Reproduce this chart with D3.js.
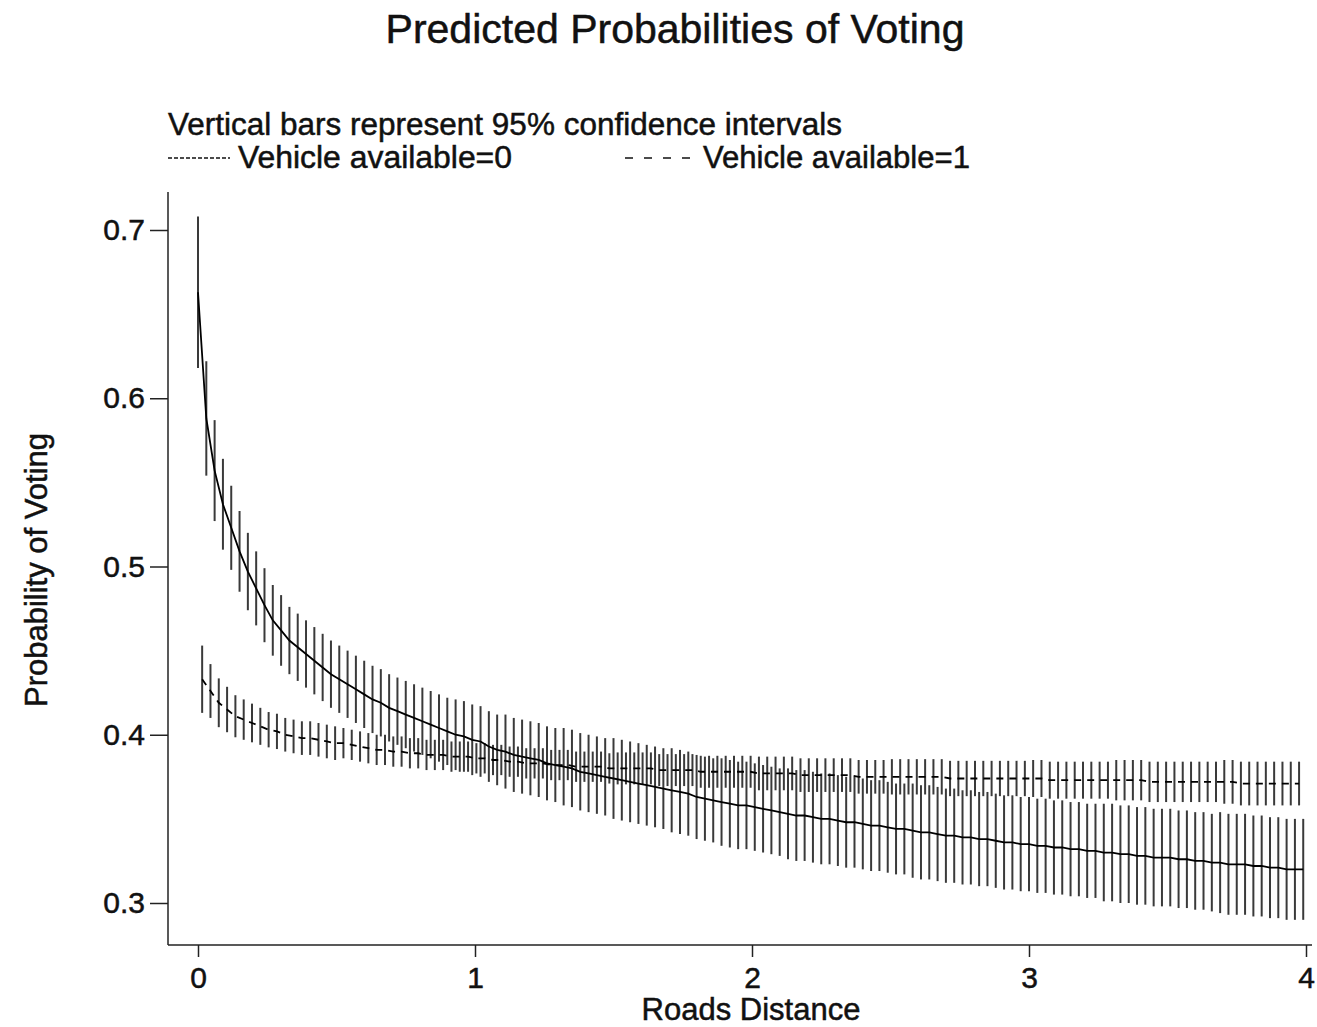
<!DOCTYPE html>
<html>
<head>
<meta charset="utf-8">
<title>Predicted Probabilities of Voting</title>
<script src="https://cdn.jsdelivr.net/npm/d3@7"></script>
<style>
    body { margin: 0; background: #fff; }
    svg { display: block; font-family: "Liberation Sans", Arial, Helvetica, sans-serif; }
    svg text { stroke: #111; stroke-width: 0.5px; }
</style>
</head>
<body>
<div id="chart"></div>
<script>
// road distance of each estimate, vehicle available = 0
const distance0 = [
    0.00,0.03,0.06,0.09,0.12,0.15,0.18,0.21,0.24,0.27,
    0.30,0.33,0.36,0.39,0.42,0.45,0.48,0.51,0.54,0.57,
    0.60,0.63,0.66,0.69,0.72,0.75,0.78,0.81,0.84,0.87,
    0.90,0.93,0.96,0.99,1.02,1.05,1.08,1.11,1.14,1.17,
    1.20,1.23,1.26,1.29,1.32,1.35,1.38,1.41,1.44,1.47,
    1.50,1.53,1.56,1.59,1.62,1.65,1.68,1.71,1.74,1.77,
    1.80,1.83,1.86,1.89,1.92,1.95,1.98,2.01,2.04,2.07,
    2.10,2.13,2.16,2.19,2.22,2.25,2.28,2.31,2.34,2.37,
    2.40,2.43,2.46,2.49,2.52,2.55,2.58,2.61,2.64,2.67,
    2.70,2.73,2.76,2.79,2.82,2.85,2.88,2.91,2.94,2.97,
    3.00,3.03,3.06,3.09,3.12,3.15,3.18,3.21,3.24,3.27,
    3.30,3.33,3.36,3.39,3.42,3.45,3.48,3.51,3.54,3.57,
    3.60,3.63,3.66,3.69,3.72,3.75,3.78,3.81,3.84,3.87,
    3.90,3.93,3.96,3.99
];
const prob0 = [
    0.663,0.588,0.557,0.537,0.523,0.509,0.497,0.487,0.477,0.468,
    0.462,0.456,0.452,0.448,0.444,0.440,0.436,0.433,0.430,0.427,
    0.424,0.421,0.419,0.416,0.414,0.412,0.410,0.408,0.406,0.404,
    0.402,0.400,0.399,0.397,0.396,0.393,0.391,0.390,0.388,0.387,
    0.386,0.385,0.383,0.382,0.381,0.380,0.378,0.377,0.376,0.375,
    0.374,0.373,0.372,0.371,0.370,0.369,0.368,0.367,0.366,0.365,
    0.363,0.362,0.361,0.360,0.359,0.358,0.358,0.357,0.356,0.355,
    0.354,0.353,0.352,0.352,0.351,0.350,0.350,0.349,0.348,0.348,
    0.347,0.346,0.346,0.345,0.344,0.344,0.343,0.342,0.342,0.341,
    0.340,0.340,0.339,0.339,0.338,0.338,0.337,0.336,0.336,0.335,
    0.335,0.334,0.334,0.333,0.333,0.332,0.332,0.331,0.331,0.330,
    0.330,0.329,0.329,0.328,0.328,0.327,0.327,0.327,0.326,0.326,
    0.325,0.325,0.324,0.324,0.323,0.323,0.323,0.322,0.322,0.321,
    0.321,0.320,0.320,0.320
];
// half width of the 95% interval
const ci0 = [
    0.045,0.034,0.030,0.027,0.025,0.024,0.023,0.022,0.022,0.021,
    0.021,0.020,0.020,0.020,0.020,0.020,0.020,0.020,0.020,0.020,
    0.020,0.020,0.020,0.020,0.020,0.020,0.020,0.020,0.020,0.020,
    0.020,0.021,0.021,0.021,0.021,0.021,0.021,0.022,0.022,0.022,
    0.022,0.022,0.022,0.022,0.023,0.023,0.023,0.023,0.023,0.023,
    0.024,0.024,0.024,0.024,0.024,0.024,0.024,0.025,0.025,0.025,
    0.025,0.025,0.025,0.026,0.026,0.026,0.026,0.026,0.026,0.026,
    0.026,0.027,0.027,0.027,0.027,0.027,0.027,0.027,0.027,0.027,
    0.027,0.027,0.027,0.027,0.027,0.027,0.028,0.028,0.028,0.028,
    0.028,0.028,0.028,0.028,0.028,0.028,0.028,0.028,0.028,0.028,
    0.028,0.028,0.028,0.028,0.028,0.028,0.028,0.028,0.028,0.029,
    0.029,0.029,0.029,0.029,0.029,0.029,0.029,0.029,0.029,0.029,
    0.029,0.029,0.029,0.030,0.030,0.030,0.030,0.030,0.030,0.030,
    0.030,0.030,0.030,0.030
];

// vehicle available = 1
const distance1 = [
    0.015,0.045,0.075,0.105,0.135,0.165,0.195,0.225,0.255,0.285,
    0.315,0.345,0.375,0.405,0.435,0.465,0.495,0.525,0.555,0.585,
    0.615,0.645,0.675,0.705,0.735,0.765,0.795,0.825,0.855,0.885,
    0.915,0.945,0.975,1.005,1.035,1.065,1.095,1.125,1.155,1.185,
    1.215,1.245,1.275,1.305,1.335,1.365,1.395,1.425,1.455,1.485,
    1.515,1.545,1.575,1.605,1.635,1.665,1.695,1.725,1.755,1.785,
    1.815,1.845,1.875,1.905,1.935,1.965,1.995,2.025,2.055,2.085,
    2.115,2.145,2.175,2.205,2.235,2.265,2.295,2.325,2.355,2.385,
    2.415,2.445,2.475,2.505,2.535,2.565,2.595,2.625,2.655,2.685,
    2.715,2.745,2.775,2.805,2.835,2.865,2.895,2.925,2.955,2.985,
    3.015,3.045,3.075,3.105,3.135,3.165,3.195,3.225,3.255,3.285,
    3.315,3.345,3.375,3.405,3.435,3.465,3.495,3.525,3.555,3.585,
    3.615,3.645,3.675,3.705,3.735,3.765,3.795,3.825,3.855,3.885,
    3.915,3.945,3.975
];
const prob1 = [
    0.433,0.426,0.419,0.415,0.411,0.409,0.407,0.405,0.403,0.402,
    0.400,0.399,0.398,0.398,0.397,0.396,0.395,0.395,0.394,0.393,
    0.392,0.391,0.391,0.390,0.390,0.389,0.389,0.388,0.388,0.388,
    0.387,0.387,0.387,0.386,0.386,0.385,0.385,0.384,0.384,0.383,
    0.383,0.383,0.382,0.382,0.382,0.381,0.381,0.381,0.381,0.380,
    0.380,0.380,0.380,0.380,0.380,0.379,0.379,0.379,0.379,0.379,
    0.378,0.378,0.378,0.378,0.378,0.378,0.378,0.377,0.377,0.377,
    0.377,0.377,0.376,0.376,0.376,0.376,0.376,0.376,0.376,0.375,
    0.375,0.375,0.375,0.375,0.375,0.375,0.375,0.375,0.375,0.375,
    0.374,0.374,0.374,0.374,0.374,0.374,0.374,0.374,0.374,0.374,
    0.374,0.374,0.373,0.373,0.373,0.373,0.373,0.373,0.373,0.373,
    0.373,0.373,0.373,0.373,0.372,0.372,0.372,0.372,0.372,0.372,
    0.372,0.372,0.372,0.372,0.372,0.371,0.371,0.371,0.371,0.371,
    0.371,0.371,0.371
];
const ci1 = [
    0.020,0.016,0.0145,0.0135,0.0125,0.012,0.0115,0.011,0.0105,0.0105,
    0.010,0.010,0.010,0.010,0.010,0.010,0.010,0.009,0.009,0.009,
    0.009,0.009,0.009,0.009,0.009,0.009,0.009,0.009,0.009,0.009,
    0.009,0.009,0.009,0.009,0.009,0.009,0.009,0.009,0.009,0.009,
    0.009,0.009,0.009,0.009,0.009,0.009,0.009,0.009,0.009,0.009,
    0.0095,0.0095,0.0095,0.0095,0.0095,0.0095,0.0095,0.0095,0.0095,0.0095,
    0.0095,0.0095,0.0095,0.0095,0.0095,0.0095,0.0095,0.010,0.010,0.010,
    0.010,0.010,0.010,0.010,0.010,0.010,0.010,0.010,0.010,0.010,
    0.010,0.010,0.010,0.0105,0.0105,0.0105,0.0105,0.0105,0.0105,0.0105,
    0.0105,0.0105,0.0105,0.0105,0.0105,0.0105,0.0105,0.0105,0.0105,0.0105,
    0.011,0.011,0.011,0.011,0.011,0.011,0.011,0.011,0.011,0.011,
    0.012,0.012,0.012,0.012,0.012,0.012,0.012,0.012,0.012,0.012,
    0.012,0.012,0.012,0.013,0.013,0.013,0.013,0.013,0.013,0.013,
    0.013,0.013,0.013
];

const xTicks = [0, 1, 2, 3, 4];
const yTicks = [0.3, 0.4, 0.5, 0.6, 0.7];

document.addEventListener("DOMContentLoaded", function() {
    const width = 1317;
    const height = 1027;

    const svg = d3.select("#chart")
        .append("svg")
        .attr("width", width)
        .attr("height", height);

    const x = d3.scaleLinear().domain([0, 4]).range([198, 1306]);
    const y = d3.scaleLinear().domain([0.3, 0.7]).range([903, 230]);

    const series = [
        { xs: distance0, ps: prob0, ci: ci0, dash: null },
        { xs: distance1, ps: prob1, ci: ci1, dash: "7,6" }
    ];

    // confidence bars
    series.forEach(s => {
        const rows = s.xs.map((d, i) => ({ x: d, p: s.ps[i], h: s.ci[i] }));
        svg.append("g")
            .selectAll("line")
            .data(rows)
            .enter()
            .append("line")
            .attr("x1", d => x(d.x))
            .attr("x2", d => x(d.x))
            .attr("y1", d => y(d.p + d.h))
            .attr("y2", d => y(d.p - d.h))
            .attr("stroke", "#3a3a3a")
            .attr("stroke-width", 2);
    });

    // predicted lines
    series.forEach(s => {
        const rows = s.xs.map((d, i) => ({ x: d, p: s.ps[i] }));
        svg.append("path")
            .datum(rows)
            .attr("fill", "none")
            .attr("stroke", "#000")
            .attr("stroke-width", 1.8)
            .attr("stroke-dasharray", s.dash)
            .attr("d", d3.line().x(d => x(d.x)).y(d => y(d.p)));
    });

    // axes
    const yAxis = svg.append("g")
        .attr("transform", "translate(168,0)")
        .call(d3.axisLeft(y).tickValues(yTicks).tickSize(18).tickPadding(5).tickFormat(d3.format(".1f")));
    const xAxis = svg.append("g")
        .attr("transform", "translate(0,945)")
        .call(d3.axisBottom(x).tickValues(xTicks).tickSize(12).tickPadding(10).tickFormat(d3.format("d")));

    [yAxis, xAxis].forEach(a => {
        a.select(".domain").remove();
        a.selectAll("line").attr("stroke", "#222").attr("stroke-width", 1.5);
        a.selectAll("text")
            .attr("fill", "#111")
            .style("font-size", "30px")
            .style("font-family", "'Liberation Sans', Arial, sans-serif");
    });

    svg.append("line")
        .attr("x1", 168).attr("x2", 168)
        .attr("y1", 192).attr("y2", 945)
        .attr("stroke", "#222").attr("stroke-width", 1.5);
    svg.append("line")
        .attr("x1", 168).attr("x2", 1312)
        .attr("y1", 945).attr("y2", 945)
        .attr("stroke", "#222").attr("stroke-width", 1.5);

    // titles
    svg.append("text")
        .attr("x", 675)
        .attr("y", 43)
        .attr("text-anchor", "middle")
        .style("font-size", "41px")
        .attr("fill", "#111")
        .text("Predicted Probabilities of Voting");

    svg.append("text")
        .attr("x", 168)
        .attr("y", 135)
        .attr("textLength", 674)
        .attr("lengthAdjust", "spacingAndGlyphs")
        .style("font-size", "31px")
        .attr("fill", "#111")
        .text("Vertical bars represent 95% confidence intervals");

    svg.append("text")
        .attr("x", 751)
        .attr("y", 1020)
        .attr("text-anchor", "middle")
        .style("font-size", "31px")
        .attr("fill", "#111")
        .text("Roads Distance");

    svg.append("text")
        .attr("transform", "translate(47,570) rotate(-90)")
        .attr("text-anchor", "middle")
        .style("font-size", "31px")
        .attr("fill", "#111")
        .text("Probability of Voting");

    // legend
    const legendItems = [
        { label: "Vehicle available=0", x0: 168, len: 62, dash: "4,2", textLen: 274 },
        { label: "Vehicle available=1", x0: 625, len: 70, dash: "8,11", textLen: 267 }
    ];
    legendItems.forEach(item => {
        svg.append("line")
            .attr("x1", item.x0).attr("x2", item.x0 + item.len)
            .attr("y1", 158).attr("y2", 158)
            .attr("stroke", "#111")
            .attr("stroke-width", 1.5)
            .attr("stroke-dasharray", item.dash);
        svg.append("text")
            .attr("x", item.x0 + item.len + 8)
            .attr("y", 168)
            .attr("textLength", item.textLen)
            .attr("lengthAdjust", "spacingAndGlyphs")
            .style("font-size", "31px")
            .attr("fill", "#111")
            .text(item.label);
    });
});
</script>
</body>
</html>
